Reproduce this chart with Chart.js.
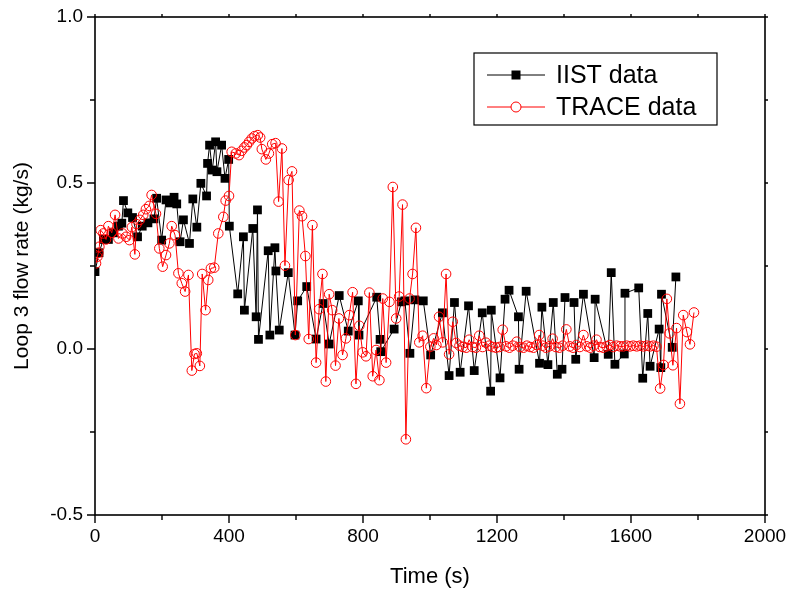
<!DOCTYPE html>
<html>
<head>
<meta charset="utf-8">
<script src="https://cdn.jsdelivr.net/npm/chart.js@4.4.0/dist/chart.umd.min.js"></script>
<style>
html,body{margin:0;padding:0;background:#fff;}
#wrap{width:788px;height:597px;}
</style>
</head>
<body>
<div id="wrap"><canvas id="c" width="788" height="597"></canvas></div>
<script>
// ---- data ----
const iistTime = [0,12,25,40,55,70,80,85,98,112,127,141,158,176,184,199,212,224,236,244,254,264,282,292,304,316,333,336,342,350,360,364,378,388,399,401,426,443,446,471,481,485,488,517,522,537,540,550,577,597,605,632,660,681,699,729,756,786,788,841,851,853,893,915,925,940,955,980,1002,1037,1057,1073,1090,1115,1132,1156,1181,1183,1209,1224,1236,1264,1266,1287,1327,1334,1352,1368,1380,1394,1403,1430,1435,1458,1490,1493,1532,1541,1552,1580,1582,1623,1635,1650,1657,1684,1689,1691,1723,1734];
const iistFlow = [0.233,0.29,0.33,0.33,0.35,0.37,0.379,0.447,0.41,0.396,0.338,0.37,0.38,0.392,0.454,0.328,0.449,0.44,0.457,0.437,0.323,0.389,0.318,0.452,0.367,0.499,0.461,0.559,0.614,0.539,0.624,0.534,0.614,0.514,0.571,0.37,0.166,0.338,0.117,0.363,0.097,0.419,0.029,0.296,0.042,0.305,0.235,0.057,0.23,0.042,0.145,0.188,0.03,0.137,0.015,0.161,0.054,0.145,0.042,0.156,0.029,-0.008,0.06,0.142,0.145,-0.013,0.148,0.145,-0.018,0.109,-0.08,0.14,-0.07,0.13,-0.065,0.109,-0.127,0.117,-0.087,0.15,0.177,0.097,-0.061,0.174,-0.043,0.126,-0.047,0.14,-0.076,-0.061,0.155,0.14,-0.031,0.165,-0.026,0.15,-0.016,0.23,-0.046,-0.015,0.168,0.184,-0.088,0.107,-0.052,0.06,-0.056,0.165,0.005,0.217];

const traceTime = [3,7,10,13,17,25,33,40,50,60,70,82,93,103,110,119,124,134,144,152,162,169,182,192,202,212,222,229,239,249,259,269,279,289,297,304,313,320,330,338,346,356,368,383,390,400,408,420,430,438,446,453,460,468,476,486,493,498,510,519,529,539,548,558,567,578,588,598,610,618,628,638,649,660,669,679,689,699,708,718,728,739,749,759,769,779,789,799,809,819,829,839,849,859,869,879,889,899,908,918,928,939,948,958,968,978,989,1001,1011,1019,1027,1038,1048,1057,1068,1078,1088,1098,1108,1117,1127,1137,1147,1157,1167,1177,1187,1197,1207,1217,1227,1237,1247,1259,1269,1279,1289,1299,1309,1319,1326,1336,1346,1356,1366,1376,1386,1396,1407,1417,1427,1437,1447,1458,1468,1478,1488,1497,1507,1517,1527,1537,1547,1557,1567,1577,1587,1597,1607,1617,1627,1637,1647,1657,1667,1676,1687,1697,1707,1715,1725,1736,1746,1756,1767,1776,1788];
const traceFlow = [0.258,0.278,0.29,0.308,0.358,0.348,0.33,0.37,0.35,0.404,0.333,0.348,0.338,0.328,0.367,0.285,0.376,0.389,0.404,0.421,0.431,0.464,0.407,0.303,0.248,0.283,0.318,0.37,0.343,0.228,0.198,0.173,0.223,-0.065,-0.015,-0.013,-0.051,0.226,0.117,0.208,0.243,0.245,0.348,0.398,0.447,0.461,0.594,0.589,0.584,0.597,0.607,0.614,0.624,0.634,0.641,0.644,0.637,0.602,0.571,0.589,0.617,0.62,0.444,0.604,0.251,0.509,0.535,0.042,0.417,0.4,0.28,0.03,0.373,-0.041,0.12,0.226,-0.098,0.165,0.117,-0.05,0.092,-0.018,0.032,0.102,0.171,-0.105,0.07,-0.01,-0.022,0.17,-0.082,-0.003,-0.094,0.152,-0.041,0.142,0.488,0.092,0.158,0.435,-0.272,0.152,0.226,0.365,0.02,0.04,-0.118,0.007,0.032,0.012,0.097,0.02,0.226,-0.016,0.082,0.018,0.01,0.006,0.004,0.028,0.006,0.004,0.04,0.006,0.019,0.01,0.006,0.004,0.006,0.058,0.008,0.004,0.01,0.022,0.006,0.004,0.01,0.006,0.004,0.012,0.042,0.01,0.004,0.008,0.031,0.006,0.004,0.01,0.059,0.008,0.004,0.012,0.006,0.042,0.008,0.004,0.01,0.028,0.006,0.004,0.008,0.012,0.006,0.01,0.008,0.008,0.01,0.008,0.01,0.008,0.01,0.008,0.01,0.008,0.01,0.007,-0.119,-0.048,0.151,0.047,-0.049,0.063,-0.165,0.102,0.051,0.014,0.11];

const xTickValues = [0,400,800,1200,1600,2000];
const yTickValues = [-0.5,0.0,0.5,1.0];
const seriesNames = ['IIST data','TRACE data'];
const xTitle = 'Time (s)';
const yTitle = 'Loop 3 flow rate (kg/s)';

const toPts = (xs, ys) => xs.map((x, i) => ({x: x, y: ys[i]}));

const FONT = "'Liberation Sans', Arial, Helvetica, sans-serif";

const framePlugin = {
  id: 'frame',
  afterDatasetsDraw(chart) {
    const {ctx, chartArea: a, scales} = chart;
    ctx.save();
    ctx.strokeStyle = '#000';
    ctx.lineWidth = 1.6;
    ctx.strokeRect(a.left, a.top, a.right - a.left, a.bottom - a.top);
    ctx.lineWidth = 1.4;
    scales.y.ticks.forEach(t => {
      const py = scales.y.getPixelForValue(t.value);
      const major = yTickValues.some(v => Math.abs(v - t.value) < 1e-9);
      const len = major ? 8 : 5;
      ctx.beginPath();
      ctx.moveTo(a.left - len, py); ctx.lineTo(a.left, py);
      ctx.moveTo(a.right, py); ctx.lineTo(a.right + 3, py);
      ctx.stroke();
    });
    scales.x.ticks.forEach(t => {
      const px = scales.x.getPixelForValue(t.value);
      const major = xTickValues.some(v => Math.abs(v - t.value) < 1e-9);
      const len = major ? 8 : 5;
      ctx.beginPath();
      ctx.moveTo(px, a.bottom); ctx.lineTo(px, a.bottom + len);
      ctx.moveTo(px, a.top); ctx.lineTo(px, a.top - 3);
      ctx.stroke();
    });
    // tick labels
    ctx.fillStyle = '#000';
    ctx.font = '19px ' + FONT;
    ctx.textAlign = 'right';
    ctx.textBaseline = 'middle';
    yTickValues.forEach(v => {
      ctx.fillText(v.toFixed(1), a.left - 12, scales.y.getPixelForValue(v));
    });
    ctx.textAlign = 'center';
    ctx.textBaseline = 'top';
    xTickValues.forEach(v => {
      ctx.fillText(String(v), scales.x.getPixelForValue(v), a.bottom + 12);
    });
    ctx.restore();
  }
};

const legendPlugin = {
  id: 'boxLegend',
  afterDraw(chart) {
    const {ctx} = chart;
    const bx = 474, by = 53, bw = 243, bh = 72;
    ctx.save();
    ctx.fillStyle = '#fff';
    ctx.fillRect(bx, by, bw, bh);
    ctx.strokeStyle = '#000';
    ctx.lineWidth = 1.2;
    ctx.strokeRect(bx, by, bw, bh);
    const rows = [
      {y: by + 22, color: '#000', style: 'rect'},
      {y: by + 54, color: '#ff0000', style: 'circle'}
    ];
    rows.forEach((r, i) => {
      ctx.strokeStyle = r.color;
      ctx.lineWidth = 1;
      ctx.beginPath();
      ctx.moveTo(bx + 13, r.y); ctx.lineTo(bx + 71, r.y);
      ctx.stroke();
      const cx = bx + 42;
      if (r.style === 'rect') {
        ctx.fillStyle = '#000';
        ctx.fillRect(cx - 4.5, r.y - 4.5, 9, 9);
      } else {
        ctx.fillStyle = '#fff';
        ctx.beginPath();
        ctx.arc(cx, r.y, 5, 0, Math.PI * 2);
        ctx.fill();
        ctx.stroke();
      }
      ctx.fillStyle = '#000';
      ctx.font = '25px ' + FONT;
      ctx.textBaseline = 'middle';
      ctx.textAlign = 'left';
      ctx.fillText(seriesNames[i], bx + 82, r.y + 1);
    });
    ctx.restore();
  }
};

new Chart(document.getElementById('c'), {
  type: 'scatter',
  data: {
    datasets: [
      {
        label: seriesNames[0],
        data: toPts(iistTime, iistFlow),
        showLine: true,
        borderColor: '#000',
        borderWidth: 1,
        backgroundColor: '#000',
        pointStyle: 'rect',
        pointRadius: 6.2,
        pointBorderWidth: 0,
        order: 2
      },
      {
        label: seriesNames[1],
        data: toPts(traceTime, traceFlow),
        showLine: true,
        borderColor: '#ff0000',
        borderWidth: 1,
        backgroundColor: 'rgba(255,255,255,0)',
        pointStyle: 'circle',
        pointRadius: 4.8,
        pointBorderWidth: 1,
        pointBorderColor: '#ff0000',
        order: 1
      }
    ]
  },
  options: {
    responsive: false,
    animation: false,
    devicePixelRatio: 1,
    layout: {autoPadding: false, padding: {top: 17, right: 23, left: 0, bottom: 0}},
    plugins: {legend: {display: false}, tooltip: {enabled: false}},
    scales: {
      x: {
        type: 'linear', min: 0, max: 2000,
        afterFit: s => { s.height = 82; },
        ticks: {stepSize: 200, display: false},
        grid: {display: false, drawTicks: false},
        border: {display: false},
        title: {display: true, text: xTitle, color: '#000', font: {family: FONT, size: 22}, padding: {top: 0, bottom: 7}}
      },
      y: {
        type: 'linear', min: -0.5, max: 1.0,
        afterFit: s => { s.width = 95; },
        ticks: {stepSize: 0.25, display: false},
        grid: {display: false, drawTicks: false},
        border: {display: false},
        title: {display: true, text: yTitle, color: '#000', font: {family: FONT, size: 21}, padding: {top: 10, bottom: 0}}
      }
    }
  },
  plugins: [framePlugin, legendPlugin]
});
</script>
</body>
</html>
